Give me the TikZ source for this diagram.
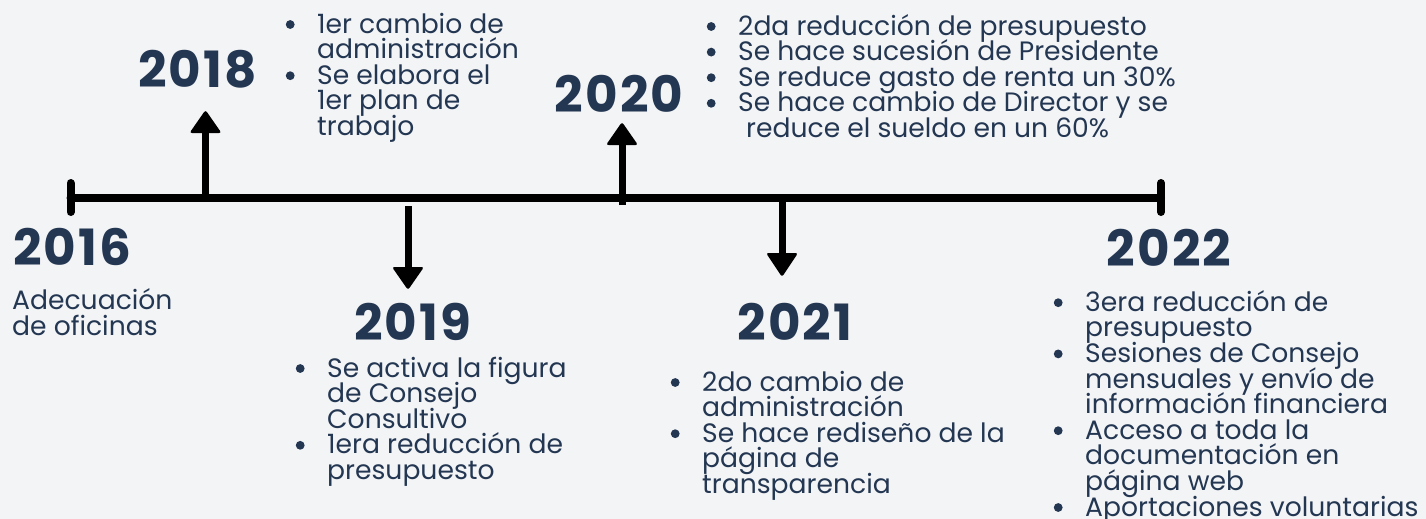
\documentclass[tikz,border=0pt]{standalone}
\usepackage{fontspec}
\setmainfont{Poppins}
\newfontfamily\yearfont{Poppins}[LetterSpace=4]
\definecolor{bg}{HTML}{F3F4F6}
\definecolor{navy}{HTML}{243752}
\newcommand{\bu}{\leavevmode\llap{\tikz[baseline=-8.5pt]\fill[navy] (0pt,0pt) circle (4.4pt);\hspace{22.6pt}}}
\newcommand{\tightlines}{\setlength{\lineskiplimit}{-40pt}\setlength{\lineskip}{0pt}}
\begin{document}
\tightlines
\begin{tikzpicture}[x=1pt,y=-1pt,
  year/.style={font=\fontsize{50}{50}\selectfont\yearfont\bfseries, text=navy, inner sep=0pt, anchor=base},
  body/.style={font=\fontsize{26.6}{25.6}\selectfont, text=navy, inner sep=0pt, align=left, anchor=base west},
  bar/.style={line width=8pt, line cap=round},
  shaft/.style={line width=7pt},
  head/.style={fill=black, rounded corners=2.5pt}]
\fill[bg] (0,0) rectangle (1426,519);
\useasboundingbox (0,0) rectangle (1426,519);
% timeline
\coordinate (L) at (70.5,197.5);
\coordinate (R) at (1161,197.5);
\coordinate (Lt) at (70.5,183); \coordinate (Lb) at (70.5,212);
\coordinate (Rt) at (1161,183); \coordinate (Rb) at (1161,212);
\draw[bar] (L) -- (R);
\draw[bar] (Lt) -- (Lb);
\draw[bar] (Rt) -- (Rb);
% 2018 up arrow
\coordinate (s18a) at (205.5,194); \coordinate (s18b) at (205.5,131);
\draw[shaft] (s18a) -- (s18b);
\fill[head] (189.5,133) -- (205.5,110) -- (221.5,133) -- cycle;
% 2019 down arrow
\coordinate (s19a) at (408,206); \coordinate (s19b) at (408,269);
\draw[shaft] (s19a) -- (s19b);
\fill[head] (392,267) -- (408,290) -- (424,267) -- cycle;
% 2020 up arrow
\coordinate (s20a) at (622,205); \coordinate (s20b) at (622,143);
\draw[shaft] (s20a) -- (s20b);
\fill[head] (606,145) -- (622,122) -- (638,145) -- cycle;
% 2021 down arrow
\coordinate (s21a) at (782,198); \coordinate (s21b) at (782,255);
\draw[shaft] (s21a) -- (s21b);
\fill[head] (766,253) -- (782,277) -- (798,253) -- cycle;
% years
\node[year] (y16) at (72,265) {2016};
\node[year] (y18) at (197.5,87) {2018};
\node[year] (y19) at (412.5,340) {2019};
\node[year] (y20) at (619,112) {2020};
\node[year] (y21) at (795,340) {2021};
\node[year] (y22) at (1169,266) {2022};
% texts (anchor = baseline of last line)
\node[body] (t16) at (12,335) {Adecuación\\de oficinas};
\node[body] (t18) at (317,135.4) {\bu 1er cambio de\\administración\\\bu Se elabora el\\1er plan de\\trabajo};
\node[body] (t20) at (738,137.4) {\bu 2da reducción de presupuesto\\\bu Se hace sucesión de Presidente\\\bu Se reduce gasto de renta un 30\%\\\bu Se hace cambio de Director y se\\\hspace*{8pt}reduce el sueldo en un 60\%};
\node[body] (t19) at (327,479.4) {\bu Se activa la figura\\de Consejo\\Consultivo\\\bu 1era reducción de\\presupuesto};
\node[body] (t21) at (702,493.4) {\bu 2do cambio de\\administración\\\bu Se hace rediseño de la\\página de\\transparencia};
\node[body] (t22) at (1085,516) {\bu 3era reducción de\\presupuesto\\\bu Sesiones de Consejo\\mensuales y envío de\\información financiera\\\bu Acceso a toda la\\documentación en\\página web\\\bu Aportaciones voluntarias};
\end{tikzpicture}
\end{document}
